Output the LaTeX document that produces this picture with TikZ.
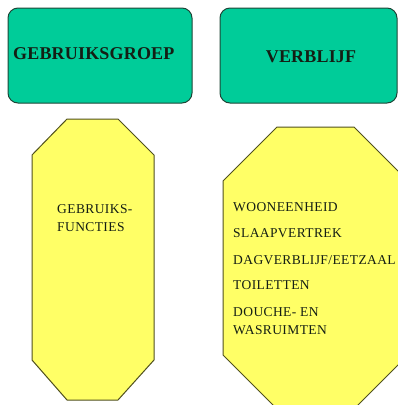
\documentclass[tikz,border=0pt]{standalone}
\usepackage{fontspec}
\setmainfont{Liberation Serif}
\definecolor{boxgreen}{RGB}{0,204,153}
\definecolor{greenline}{RGB}{30,70,55}
\definecolor{boxyellow}{RGB}{255,255,102}
\definecolor{yellowline}{RGB}{80,80,30}
\definecolor{txt}{RGB}{20,30,20}
\tikzset{
  greenbox/.style={draw=greenline, fill=boxgreen, line width=1pt, rounded corners=10pt, inner sep=0pt},
  octa/.style={draw=yellowline, fill=boxyellow, line width=1pt},
  title/.style={font=\fontsize{18}{20}\selectfont\bfseries\addfontfeature{LetterSpace=1}, inner sep=0pt, text=txt},
  item/.style={font=\fontsize{13.5}{18}\selectfont\addfontfeature{LetterSpace=3}, inner sep=0pt, anchor=base west, text=txt}
}
\begin{document}
\begin{tikzpicture}[x=1pt,y=-1pt]
\useasboundingbox (0,0) rectangle (398,405);
\clip (0,0) rectangle (398,405);
\node[greenbox, minimum width=184pt, minimum height=95pt] (gg) at (100,55.5) {};
\node[greenbox, minimum width=177pt, minimum height=95pt] (vb) at (308.5,55.5) {};
\node[title, anchor=base west] (ggt) at (13,59.5) {GEBRUIKSGROEP};
\node[title, anchor=base] (vbt) at (311,62.5) {VERBLIJF};
\draw[octa] (67,119) -- (118,119) -- (154,155) -- (154,360) -- (118,400) -- (67,400) -- (32,360) -- (32,155) -- cycle;
\draw[octa] (277,127) -- (354,127) -- (408,181) -- (408,355) -- (354,409) -- (277,409) -- (223,355) -- (223,181) -- cycle;
\node[item] (gf1) at (57,213.5) {GEBRUIKS-};
\node[item] (gf2) at (57,231.5) {FUNCTIES};
\node[item] (v1) at (233,211.5) {WOONEENHEID};
\node[item] (v2) at (233,237.5) {SLAAPVERTREK};
\node[item] (v3) at (233,264.5) {DAGVERBLIJF/EETZAAL};
\node[item] (v4) at (233,289.5) {TOILETTEN};
\node[item] (v5) at (233,316.5) {DOUCHE- EN};
\node[item] (v6) at (233,334.5) {WASRUIMTEN};
\end{tikzpicture}
\end{document}
